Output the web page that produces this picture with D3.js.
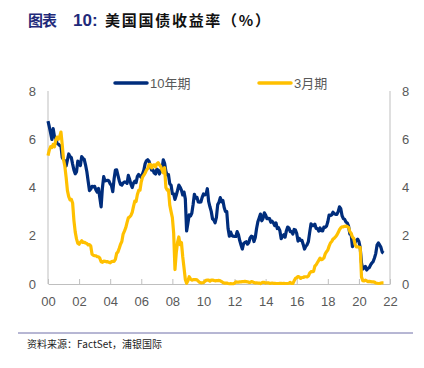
<!DOCTYPE html>
<html><head><meta charset="utf-8">
<script src="https://cdn.jsdelivr.net/npm/d3@7"></script>
<style>
body{margin:0;background:#fff;}
svg{display:block;}
</style></head>
<body>
<svg id="c" width="424" height="368"></svg>
<script>
const startYear = 2000;
const seriesNames = ["10年期", "3月期"];
const xTickLabels = ["00","02","04","06","08","10","12","14","16","18","20","22"];
const yTicks = [0,2,4,6,8];
// monthly 10-year yields from Jan 2000
const tenYear = [
6.75,6.52,6.26,5.99,6.44,6.10,6.05,5.83,5.80,5.74,5.72,5.24,
5.16,5.10,4.89,5.14,5.39,5.28,5.24,4.97,4.73,4.57,4.65,5.09,
5.04,4.91,5.28,5.21,5.16,4.93,4.65,4.26,3.87,3.94,4.05,4.03,
4.05,3.90,3.81,3.96,3.57,3.20,3.98,4.45,4.27,4.29,4.30,4.27,
4.15,4.08,3.83,4.35,4.72,4.73,4.50,4.28,4.13,4.10,4.19,4.23,
4.22,4.17,4.50,4.34,4.14,4.00,4.18,4.26,4.20,4.46,4.54,4.47,
4.42,4.57,4.72,4.99,5.11,5.15,5.09,4.88,4.72,4.73,4.60,4.56,
4.76,4.72,4.56,4.69,4.75,5.15,5.00,4.67,4.52,4.53,4.15,4.10,
3.74,3.74,3.51,3.68,3.88,4.10,4.01,3.89,3.69,3.81,3.53,2.20,
2.52,2.87,2.82,2.93,3.29,3.72,3.56,3.59,3.40,3.39,3.40,3.59,
3.73,3.69,3.73,3.95,3.42,3.20,3.01,2.70,2.65,2.54,2.76,3.29,
3.39,3.58,3.41,3.46,3.17,3.00,3.00,2.30,1.98,2.15,2.01,1.98,
1.97,1.97,2.17,2.05,1.80,1.62,1.45,1.68,1.72,1.75,1.65,1.72,
1.91,1.98,1.96,1.76,1.93,2.30,2.58,2.74,2.90,2.62,2.72,2.95,
2.86,2.71,2.72,2.71,2.56,2.60,2.54,2.42,2.53,2.30,2.33,2.21,
1.88,1.98,2.04,1.94,2.20,2.36,2.32,2.17,2.17,2.07,2.26,2.24,
2.09,1.78,1.89,1.81,1.81,1.64,1.45,1.56,1.63,1.76,2.14,2.49,
2.43,2.42,2.48,2.30,2.30,2.19,2.32,2.21,2.20,2.36,2.35,2.40,
2.58,2.86,2.84,2.87,2.98,2.91,2.89,2.89,3.00,3.20,3.12,2.83,
2.71,2.68,2.57,2.53,2.40,2.07,2.06,1.55,1.70,1.71,1.81,1.86,
1.76,1.50,0.87,0.62,0.67,0.73,0.58,0.65,0.68,0.79,0.87,0.93,
1.08,1.26,1.61,1.70,1.62,1.52,1.32,1.28
];
// monthly 3-month yields from Jan 2000
const threeMonth = [
5.32,5.55,5.69,5.66,5.79,5.69,5.96,6.09,6.00,6.11,6.30,5.77,
5.15,4.88,4.42,3.87,3.62,3.49,3.51,3.36,2.64,2.16,1.87,1.69,
1.65,1.73,1.79,1.72,1.73,1.70,1.68,1.62,1.63,1.58,1.23,1.19,
1.17,1.17,1.13,1.13,1.07,0.92,0.90,0.95,0.94,0.92,0.93,0.90,
0.88,0.93,0.94,0.94,1.02,1.27,1.33,1.48,1.65,1.76,2.07,2.19,
2.33,2.54,2.74,2.78,2.84,2.97,3.22,3.44,3.42,3.71,3.88,3.89,
4.24,4.43,4.51,4.60,4.72,4.79,4.95,4.96,4.81,4.92,4.94,4.85,
4.98,5.03,4.94,4.87,4.73,4.61,4.82,4.00,3.89,3.90,3.27,3.00,
2.75,2.12,0.60,1.29,1.73,1.95,1.63,1.72,1.13,0.67,0.19,0.03,
0.13,0.30,0.21,0.16,0.18,0.18,0.18,0.17,0.12,0.07,0.05,0.05,
0.06,0.11,0.15,0.16,0.16,0.12,0.16,0.16,0.15,0.13,0.14,0.14,
0.15,0.13,0.10,0.06,0.04,0.04,0.04,0.02,0.01,0.02,0.01,0.01,
0.03,0.09,0.08,0.08,0.09,0.09,0.10,0.10,0.11,0.10,0.09,0.07,
0.07,0.10,0.09,0.06,0.04,0.05,0.04,0.04,0.02,0.05,0.07,0.07,
0.04,0.05,0.05,0.03,0.03,0.04,0.03,0.03,0.02,0.02,0.02,0.03,
0.03,0.02,0.03,0.02,0.02,0.02,0.03,0.07,0.02,0.02,0.13,0.23,
0.26,0.31,0.29,0.23,0.27,0.27,0.30,0.30,0.29,0.33,0.45,0.51,
0.51,0.52,0.74,0.80,0.89,0.98,1.07,1.01,1.03,1.08,1.25,1.34,
1.41,1.57,1.70,1.76,1.86,1.90,1.96,2.03,2.13,2.25,2.33,2.37,
2.37,2.39,2.40,2.38,2.35,2.17,2.10,1.95,1.89,1.65,1.54,1.54,
1.52,1.52,0.29,0.14,0.13,0.16,0.13,0.10,0.11,0.10,0.09,0.09,
0.08,0.04,0.03,0.02,0.02,0.04,0.05,0.05
];
const colors = ["#002D7C", "#FFC000"];

const svg = d3.select("#c");
const x = d3.scaleLinear().domain([2000, 2022]).range([48, 390]);
const y = d3.scaleLinear().domain([0, 8]).range([284, 91]);
const toPts = arr => arr.map((v,i)=>({t: startYear + i/12, v}));

// title
const tFont = "'Noto Sans CJK SC'";
svg.append("text").attr("x",28).attr("y",26).attr("font-family",tFont).attr("font-size",15)
  .attr("font-weight","bold").attr("fill","#1F2A7A").attr("textLength",29).attr("lengthAdjust","spacing").text("图表");
svg.append("text").attr("x",73).attr("y",26).attr("font-family","'Liberation Sans', Arial").attr("font-size",17)
  .attr("font-weight","bold").attr("fill","#1F2A7A").text("10:");
svg.append("text").attr("x",105).attr("y",26).attr("font-family",tFont).attr("font-size",15)
  .attr("font-weight","bold").attr("fill","#111").attr("textLength",165).attr("lengthAdjust","spacing").text("美国国债收益率（%）");

// axes lines
const axisColor = "#BFBFBF";
svg.append("line").attr("x1",x(2000)).attr("x2",x(2000)).attr("y1",y(8)).attr("y2",y(0)).attr("stroke",axisColor);
svg.append("line").attr("x1",x(2022)).attr("x2",x(2022)).attr("y1",y(8)).attr("y2",y(0)).attr("stroke",axisColor);

const xAxis = d3.axisBottom(x).tickValues(d3.range(2000,2023,2)).tickSizeInner(-5).tickSizeOuter(0)
  .tickFormat((d,i)=>xTickLabels[i]).tickPadding(10);
const gx = svg.append("g").attr("transform",`translate(0,${y(0)})`).call(xAxis);
gx.select(".domain").attr("stroke",axisColor);
gx.selectAll(".tick line").attr("stroke",axisColor);
gx.selectAll("text").attr("fill","#595959").attr("font-size",13).attr("font-family","'Liberation Sans', Arial").attr("dy","0.9em");

const yl = d3.axisLeft(y).tickValues(yTicks).tickSize(0).tickPadding(12);
const gy = svg.append("g").attr("transform",`translate(${x(2000)},0)`).call(yl);
gy.select(".domain").remove();
gy.selectAll("text").attr("fill","#595959").attr("font-size",13).attr("font-family","'Liberation Sans', Arial");
const yr = d3.axisRight(y).tickValues(yTicks).tickSize(0).tickPadding(12);
const gyr = svg.append("g").attr("transform",`translate(${x(2022)},0)`).call(yr);
gyr.select(".domain").remove();
gyr.selectAll("text").attr("fill","#595959").attr("font-size",13).attr("font-family","'Liberation Sans', Arial");

// lines
const line = d3.line().x(d=>x(d.t)).y(d=>y(d.v));
[tenYear, threeMonth].forEach((arr,i)=>{
  svg.append("path").datum(toPts(arr)).attr("d",line).attr("fill","none")
    .attr("stroke",colors[i]).attr("stroke-width",3.2).attr("stroke-linejoin","round");
});

// legend
const legX = [115, 259];
seriesNames.forEach((n,i)=>{
  svg.append("line").attr("x1",legX[i]).attr("x2",legX[i]+32).attr("y1",83).attr("y2",83)
    .attr("stroke",colors[i]).attr("stroke-width",3.5).attr("stroke-linecap","round");
  svg.append("text").attr("x",legX[i]+35).attr("y",88).attr("fill","#595959")
    .attr("font-size",13).attr("font-family","'Liberation Sans','Noto Sans CJK SC'").text(n);
});

// footer
svg.append("line").attr("x1",18).attr("x2",413).attr("y1",333).attr("y2",333).attr("stroke","#6E6EA8").attr("stroke-width",1);
svg.append("text").attr("x",27).attr("y",348).attr("fill","#222").attr("font-size",10)
  .attr("font-family","'Noto Sans CJK SC'").attr("textLength",135).attr("lengthAdjust","spacing").text("资料来源：FactSet，浦银国际");
</script>
</body></html>
